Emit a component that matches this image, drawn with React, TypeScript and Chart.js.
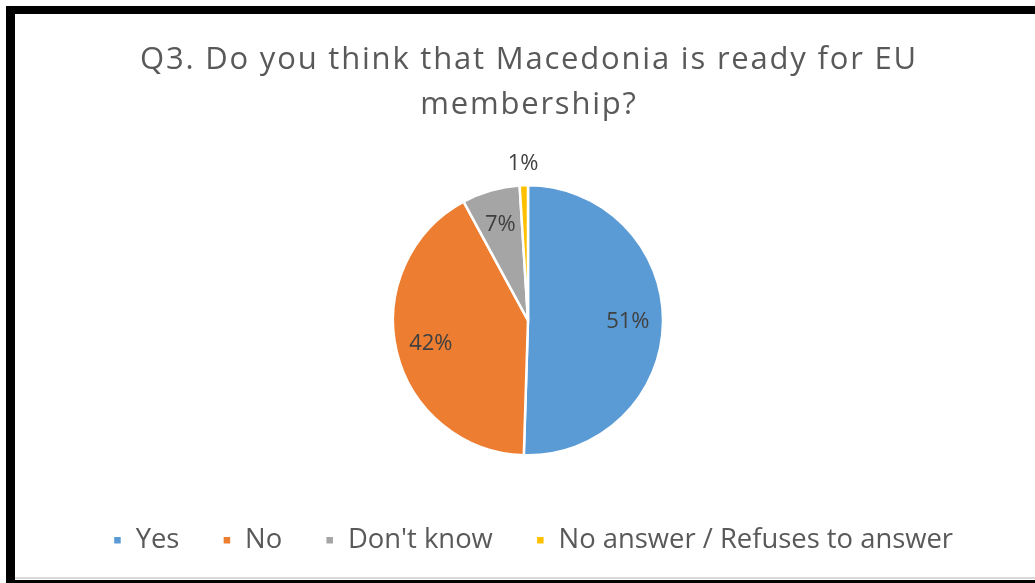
import React, { useEffect, useRef } from "react";
import { Chart, registerables } from "chart.js";

Chart.register(...registerables);

const TITLE_LINES = ["Q3. Do you think that Macedonia is ready for EU", "membership?"];
const CATEGORIES = ["Yes", "No", "Don't know", "No answer / Refuses to answer"];
const VALUES = [51, 42, 7, 1];
const COLORS = ["#5B9BD5", "#ED7D31", "#A5A5A5", "#FFC000"];

const titlePlugin = {
  id: "spacedTitle",
  afterDraw(chart: any) {
    const { ctx } = chart;
    ctx.save();
    ctx.font = '31px "Open Sans"';
    (ctx as any).letterSpacing = "1.8px";
    ctx.fillStyle = "#595959";
    ctx.textAlign = "center";
    ctx.textBaseline = "alphabetic";
    const cx = chart.width / 2;
    TITLE_LINES.forEach((line, i) => {
      ctx.fillText(line, cx + 1, 69 + i * 45);
    });
    ctx.restore();
  },
};

const legendShift = {
  id: "legendShift",
  afterLayout(chart: any) {
    if (chart.legend) {
      chart.legend.left += 5;
      chart.legend.right += 5;
    }
  },
};

const labelPlugin = {
  id: "sliceLabels",
  afterDatasetsDraw(chart: any) {
    const { ctx } = chart;
    const meta = chart.getDatasetMeta(0);
    ctx.save();
    ctx.font = '22px "Open Sans"';
    ctx.fillStyle = "#404040";
    ctx.textAlign = "center";
    ctx.textBaseline = "middle";
    meta.data.forEach((arc: any, i: number) => {
      const { x, y, startAngle, endAngle, outerRadius } = arc.getProps(
        ["x", "y", "startAngle", "endAngle", "outerRadius"],
        true
      );
      const mid = (startAngle + endAngle) / 2;
      const small = VALUES[i] < 3;
      const r = small ? outerRadius + 22 : outerRadius * 0.74;
      ctx.fillText(VALUES[i] + "%", x + Math.cos(mid) * r, y + Math.sin(mid) * r);
    });
    ctx.restore();
  },
};

export default function App() {
  const ref = useRef<HTMLCanvasElement>(null);
  useEffect(() => {
    const chart = new Chart(ref.current!, {
      type: "pie",
      data: {
        labels: CATEGORIES,
        datasets: [
          {
            data: VALUES,
            backgroundColor: COLORS,
            borderColor: "#ffffff",
            borderWidth: 2.5,
            radius: 135,
          } as any,
        ],
      },
      options: {
        animation: false,
        responsive: false,
        layout: { padding: { top: 157, bottom: 19, left: 0, right: 0 } },
        plugins: {
          tooltip: { enabled: false },
          title: { display: false },
          legend: {
            position: "bottom",
            labels: {
              color: "#595959",
              font: { family: '"Open Sans"', size: 27.4 },
              boxWidth: 9,
              boxHeight: 9,
              padding: 43,
              useBorderRadius: false,
            },
          },
        },
      },
      plugins: [labelPlugin, titlePlugin, legendShift],
    });
    return () => chart.destroy();
  }, []);

  return (
    <div
      style={{
        position: "absolute",
        left: 0,
        top: 0,
        width: 1035,
        height: 583,
        background: "#ffffff",
        overflow: "hidden",
      }}
    >
      <canvas ref={ref} width={1036} height={583} style={{ position: "absolute", left: 10, top: 0 }} />
      <div style={{ position: "absolute", left: 6, top: 6, width: 1029, height: 8, background: "#000" }} />
      <div style={{ position: "absolute", left: 6, top: 6, width: 9, height: 577, background: "#000" }} />
      <div style={{ position: "absolute", left: 15, top: 577, width: 1020, height: 2, background: "#d9d9d9" }} />
      <div style={{ position: "absolute", left: 6, top: 580, width: 1029, height: 3, background: "#000" }} />
    </div>
  );
}
